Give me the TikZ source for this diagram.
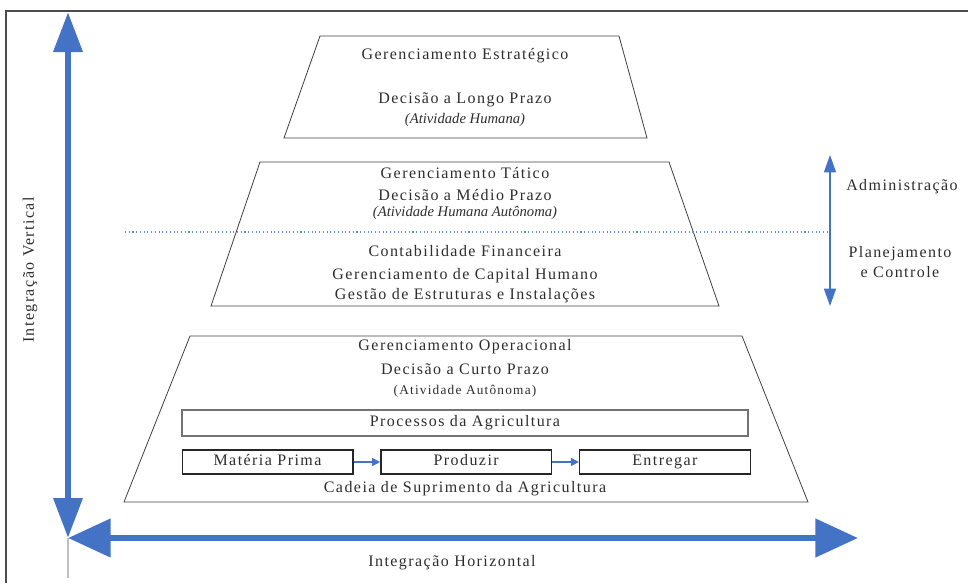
\documentclass[tikz,border=0pt]{standalone}
\usepackage{fontspec}
\setmainfont{Liberation Serif}[LetterSpace=9]
\newfontfamily\notafonte{Liberation Serif}
\usetikzlibrary{arrows.meta,positioning}
\definecolor{eixoazul}{RGB}{68,114,196}
\definecolor{texto}{RGB}{45,45,45}

\begin{document}
\begin{tikzpicture}[x=0.75pt, y=-0.75pt, thin,
    nivel/.style = {draw=black!75, line width=0.6pt},
    rotulo/.style = {text=texto, inner sep=1pt, font=\fontsize{12}{14}\selectfont},
    nota/.style = {text=texto, inner sep=1pt, font=\notafonte\fontsize{11}{13}\selectfont\itshape},
    caixa/.style = {draw=black!85, line width=1pt, inner sep=0pt, minimum height=18pt,
                    text height=1.6ex, text depth=0.3ex,
                    text=texto, font=\fontsize{12}{14}\selectfont},
    eixo/.style = {eixoazul, line width=5pt},
    fluxo/.style = {eixoazul, line width=0.8pt, -{Triangle[length=6pt, width=6pt]}},
  ]
  \useasboundingbox (0,0) rectangle (968,583);
  % moldura
  \draw[black!70, line width=0.8pt] (6,583) -- (6,11) -- (968,11);

  % Definizione dei tre livelli
  \draw[nivel] (320,36) -- (619,36) -- (647,138) -- (284,138) -- cycle;   % estrategico
  \draw[nivel] (260,162) -- (669,162) -- (719,306) -- (211,306) -- cycle; % tatico
  \draw[nivel] (190,336) -- (742,336) -- (808,502) -- (124,502) -- cycle; % operacional

  % linha divisoria pontilhada
  \coordinate (pinicio) at (125,232);
  \coordinate (pfim) at (830,232);
  \draw[eixoazul!80, dotted, line width=0.8pt] (pinicio) -- (pfim);

  % textos - nivel estrategico
  \node[rotulo] (estrategico) at (465,56) {Gerenciamento Estratégico};
  \node[rotulo] (longo) at (465,100) {Decisão a Longo Prazo};
  \node[nota, below=2pt of longo] (humana) {(Atividade Humana)};

  % textos - nivel tatico
  \node[rotulo] (tatico) at (465,173) {Gerenciamento Tático};
  \node[rotulo] (medio) at (465,195) {Decisão a Médio Prazo};
  \node[nota, below=2pt of medio] (humauto) {(Atividade Humana Autônoma)};
  \node[rotulo] (contab) at (465,251) {Contabilidade Financeira};
  \node[rotulo] (capital) at (465,276) {Gerenciamento de Capital Humano};
  \node[rotulo] (gestao) at (465,296) {Gestão de Estruturas e Instalações};

  % textos - nivel operacional
  \node[rotulo] (operacional) at (465,347) {Gerenciamento Operacional};
  \node[rotulo] (curto) at (465,369) {Decisão a Curto Prazo};
  \node[rotulo, font=\fontsize{10}{12}\selectfont] (autonoma) at (465,391) {(Atividade Autônoma)};
  \node[caixa, draw=black!55, line width=0.8pt, minimum width=424.5pt, minimum height=19.5pt] (processos) at (465,423) {Processos da Agricultura};
  \node[caixa, minimum width=128pt] (materia) at (267.5,462) {Matéria Prima};
  \node[caixa, minimum width=128pt, right=20pt of materia] (produzir) {Produzir};
  \node[caixa, minimum width=128pt, right=20pt of produzir] (entregar) {Entregar};
  \node[rotulo] (cadeia) at (465,489) {Cadeia de Suprimento da Agricultura};
  \draw[fluxo] (materia) -- (produzir);
  \draw[fluxo] (produzir) -- (entregar);

  % seta administracao / planejamento
  \coordinate (stopo) at (830,155);
  \coordinate (sbase) at (830,306);
  \draw[eixoazul, line width=1pt, {Triangle[length=13pt, width=9pt]}-{Triangle[length=13pt, width=9pt]}] (sbase) -- (stopo);
  \node[rotulo] (admin) at (902,187) {Administração};
  \node[rotulo, align=center] (planej) at (900,262) {Planejamento\\[1pt]e Controle};

  % eixos de integracao
  \coordinate (origem) at (68,538);
  \coordinate (vtopo) at (68,12);
  \coordinate (hfim) at (858,538);
  \coordinate (vfundo) at (68,578);
  \draw[black!25, line width=0.8pt] (origem) -- (vfundo);
  \draw[eixo, {Triangle[length=30pt, width=21pt]}-{Triangle[length=30pt, width=21pt]}] (origem) -- (vtopo);
  \draw[eixo, {Triangle[length=32pt, width=28pt]}-{Triangle[length=32pt, width=28pt]}] (origem) -- (hfim);
  \node[rotulo, rotate=90] (vertical) at (30,270) {Integração Vertical};
  \node[rotulo] (horizontal) at (452,563) {Integração Horizontal};
\end{tikzpicture}
\end{document}
